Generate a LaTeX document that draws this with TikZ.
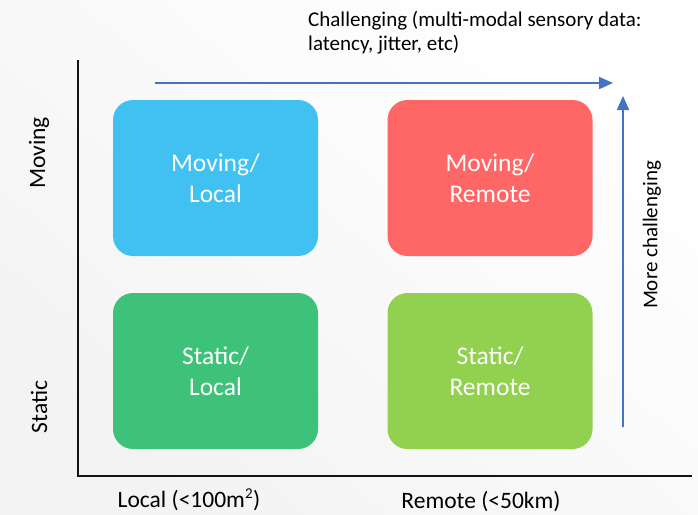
\documentclass[tikz,border=0pt]{standalone}
\usepackage{fontspec}
\setmainfont{Carlito}
\usetikzlibrary{arrows.meta}

\definecolor{bgwash}{RGB}{243,243,243}
\definecolor{movlocal}{RGB}{65,193,242}
\definecolor{movremote}{RGB}{255,102,102}
\definecolor{statlocal}{RGB}{62,194,122}
\definecolor{statremote}{RGB}{146,208,80}
\definecolor{arrowblue}{RGB}{68,114,196}
\definecolor{axisink}{RGB}{20,20,20}

\tikzset{
  quad/.style={draw=none, rounded corners=20pt, minimum width=205pt,
    minimum height=156pt, inner sep=0pt, text=white, align=center,
    font=\fontsize{25.5}{31}\selectfont},
  axislabel/.style={inner sep=0pt, text=black, font=\fontsize{23.5}{28}\selectfont},
  notelabel/.style={inner sep=0pt, text=black, align=left, font=\fontsize{21}{23.5}\selectfont},
  axisline/.style={draw=axisink, line width=2pt},
  trend/.style={draw=arrowblue, line width=2pt, -{Triangle[length=14pt,width=12pt]}}
}

\begin{document}
\begin{tikzpicture}[x=1pt,y=-1pt]
  % slide background: soft diagonal wash
  \shade[shading=axis, top color=white, bottom color=bgwash, shading angle=-40]
    (0,0) rectangle (698,514);
  \useasboundingbox (0,0) rectangle (698,514);

  % the four quadrants
  \node[quad, fill=movlocal]   (ml) at (215.5,178) {Moving/\\Local};
  \node[quad, fill=movremote]  (mr) at (490,178)   {Moving/\\Remote};
  \node[quad, fill=statlocal]  (sl) at (215.5,371) {Static/\\Local};
  \node[quad, fill=statremote] (sr) at (490,371)   {Static/\\Remote};

  % axes
  \coordinate (ytop) at (78,60);
  \coordinate (xend) at (692,476);
  \draw[axisline] (ytop) |- (xend);

  % axis labels
  \node[axislabel, rotate=90] (lmov) at (39,153) {Moving};
  \node[axislabel, rotate=90] (lsta) at (39,407) {Static};
  \node[axislabel] (lloc) at (189,500) {Local (<100m\textsuperscript{\fontsize{15}{15}\selectfont 2})};
  \node[axislabel] (lrem) at (481,501.5) {Remote (<50km)};

  % difficulty trends
  \coordinate (hs) at (155,83);
  \coordinate (he) at (613,83);
  \draw[trend] (hs) -- (he);
  \coordinate (vs) at (623,427);
  \coordinate (ve) at (623,96);
  \draw[trend] (vs) -- (ve);

  \node[notelabel, anchor=north west] (note) at (308,11)
    {Challenging (multi-modal sensory data:\\latency, jitter, etc)};
  \node[notelabel, rotate=90] (more) at (652,235) {More challenging};
\end{tikzpicture}
\end{document}
